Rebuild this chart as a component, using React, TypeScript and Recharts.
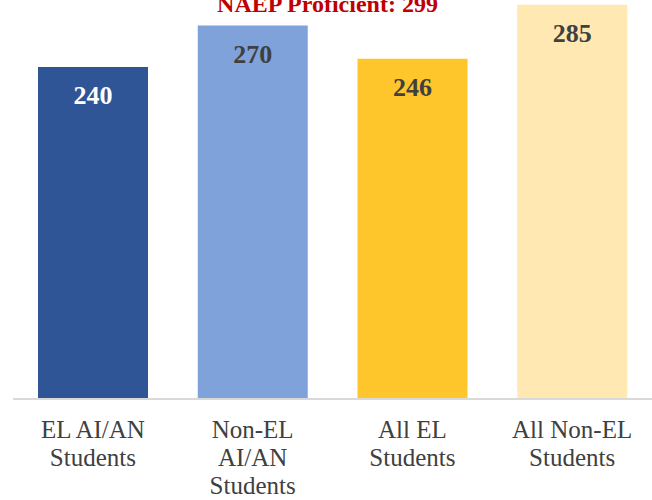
import { BarChart, Bar, XAxis, YAxis, Cell, LabelList, ReferenceLine } from "recharts";

const categories = ["EL AI/AN Students", "Non-EL AI/AN Students", "All EL Students", "All Non-EL Students"];
const tickLines = [["EL AI/AN", "Students"], ["Non-EL", "AI/AN", "Students"], ["All EL", "Students"], ["All Non-EL", "Students"]];
const scores = [240, 270, 246, 285];
const barColors = ["#2f5597", "#7fa2da", "#ffc62c", "#ffe8b2"];
const labelColors = ["#ffffff", "#404040", "#404040", "#404040"];
const proficient = 299;

const data = categories.map((c, i) => ({ name: c, score: scores[i] }));

const SERIF = "'Liberation Serif', 'Times New Roman', serif";

function CatTick(props: any) {
  const { x, y, index } = props;
  const lines = tickLines[index] || [];
  return (
    <g>
      {lines.map((l, k) => (
        <text key={k} x={x} y={y + 31 + k * 28} textAnchor="middle"
              fontFamily={SERIF} fontSize={25} fill="#404040">{l}</text>
      ))}
    </g>
  );
}

function ValueLabel(props: any) {
  const { x, y, width, value, index } = props;
  return (
    <text x={x + width / 2} y={y + 37} textAnchor="middle" fontFamily={SERIF}
          fontWeight="bold" fontSize={26} fill={labelColors[index]}>{value}</text>
  );
}

function ProfLabel(props: any) {
  const { viewBox } = props;
  return (
    <text x={viewBox.x + viewBox.width / 2 - 5} y={viewBox.y + 26.6} textAnchor="middle"
          fontFamily={SERIF} fontWeight="bold" fontSize={24} fill="#c00000">
      NAEP Proficient: {proficient}
    </text>
  );
}

export default function App() {
  return (
    <div style={{ position: "absolute", left: 0, top: -40 }}>
      <BarChart width={652} height={540} data={data}
                margin={{ top: 24, right: 0, left: 13, bottom: 0 }}>
        <XAxis dataKey="name" height={101} tickLine={false}
               axisLine={{ stroke: "#d9d9d9", strokeWidth: 2 }}
               tick={<CatTick />} interval={0} />
        <YAxis hide domain={[0, 300]} />
        <ReferenceLine y={proficient} stroke="#c00000" strokeDasharray="6 4"
                       label={<ProfLabel />} />
        <Bar dataKey="score" barSize={110} isAnimationActive={false}>
          {data.map((d, i) => <Cell key={d.name} fill={barColors[i]} />)}
          <LabelList dataKey="score" content={<ValueLabel />} />
        </Bar>
      </BarChart>
    </div>
  );
}
